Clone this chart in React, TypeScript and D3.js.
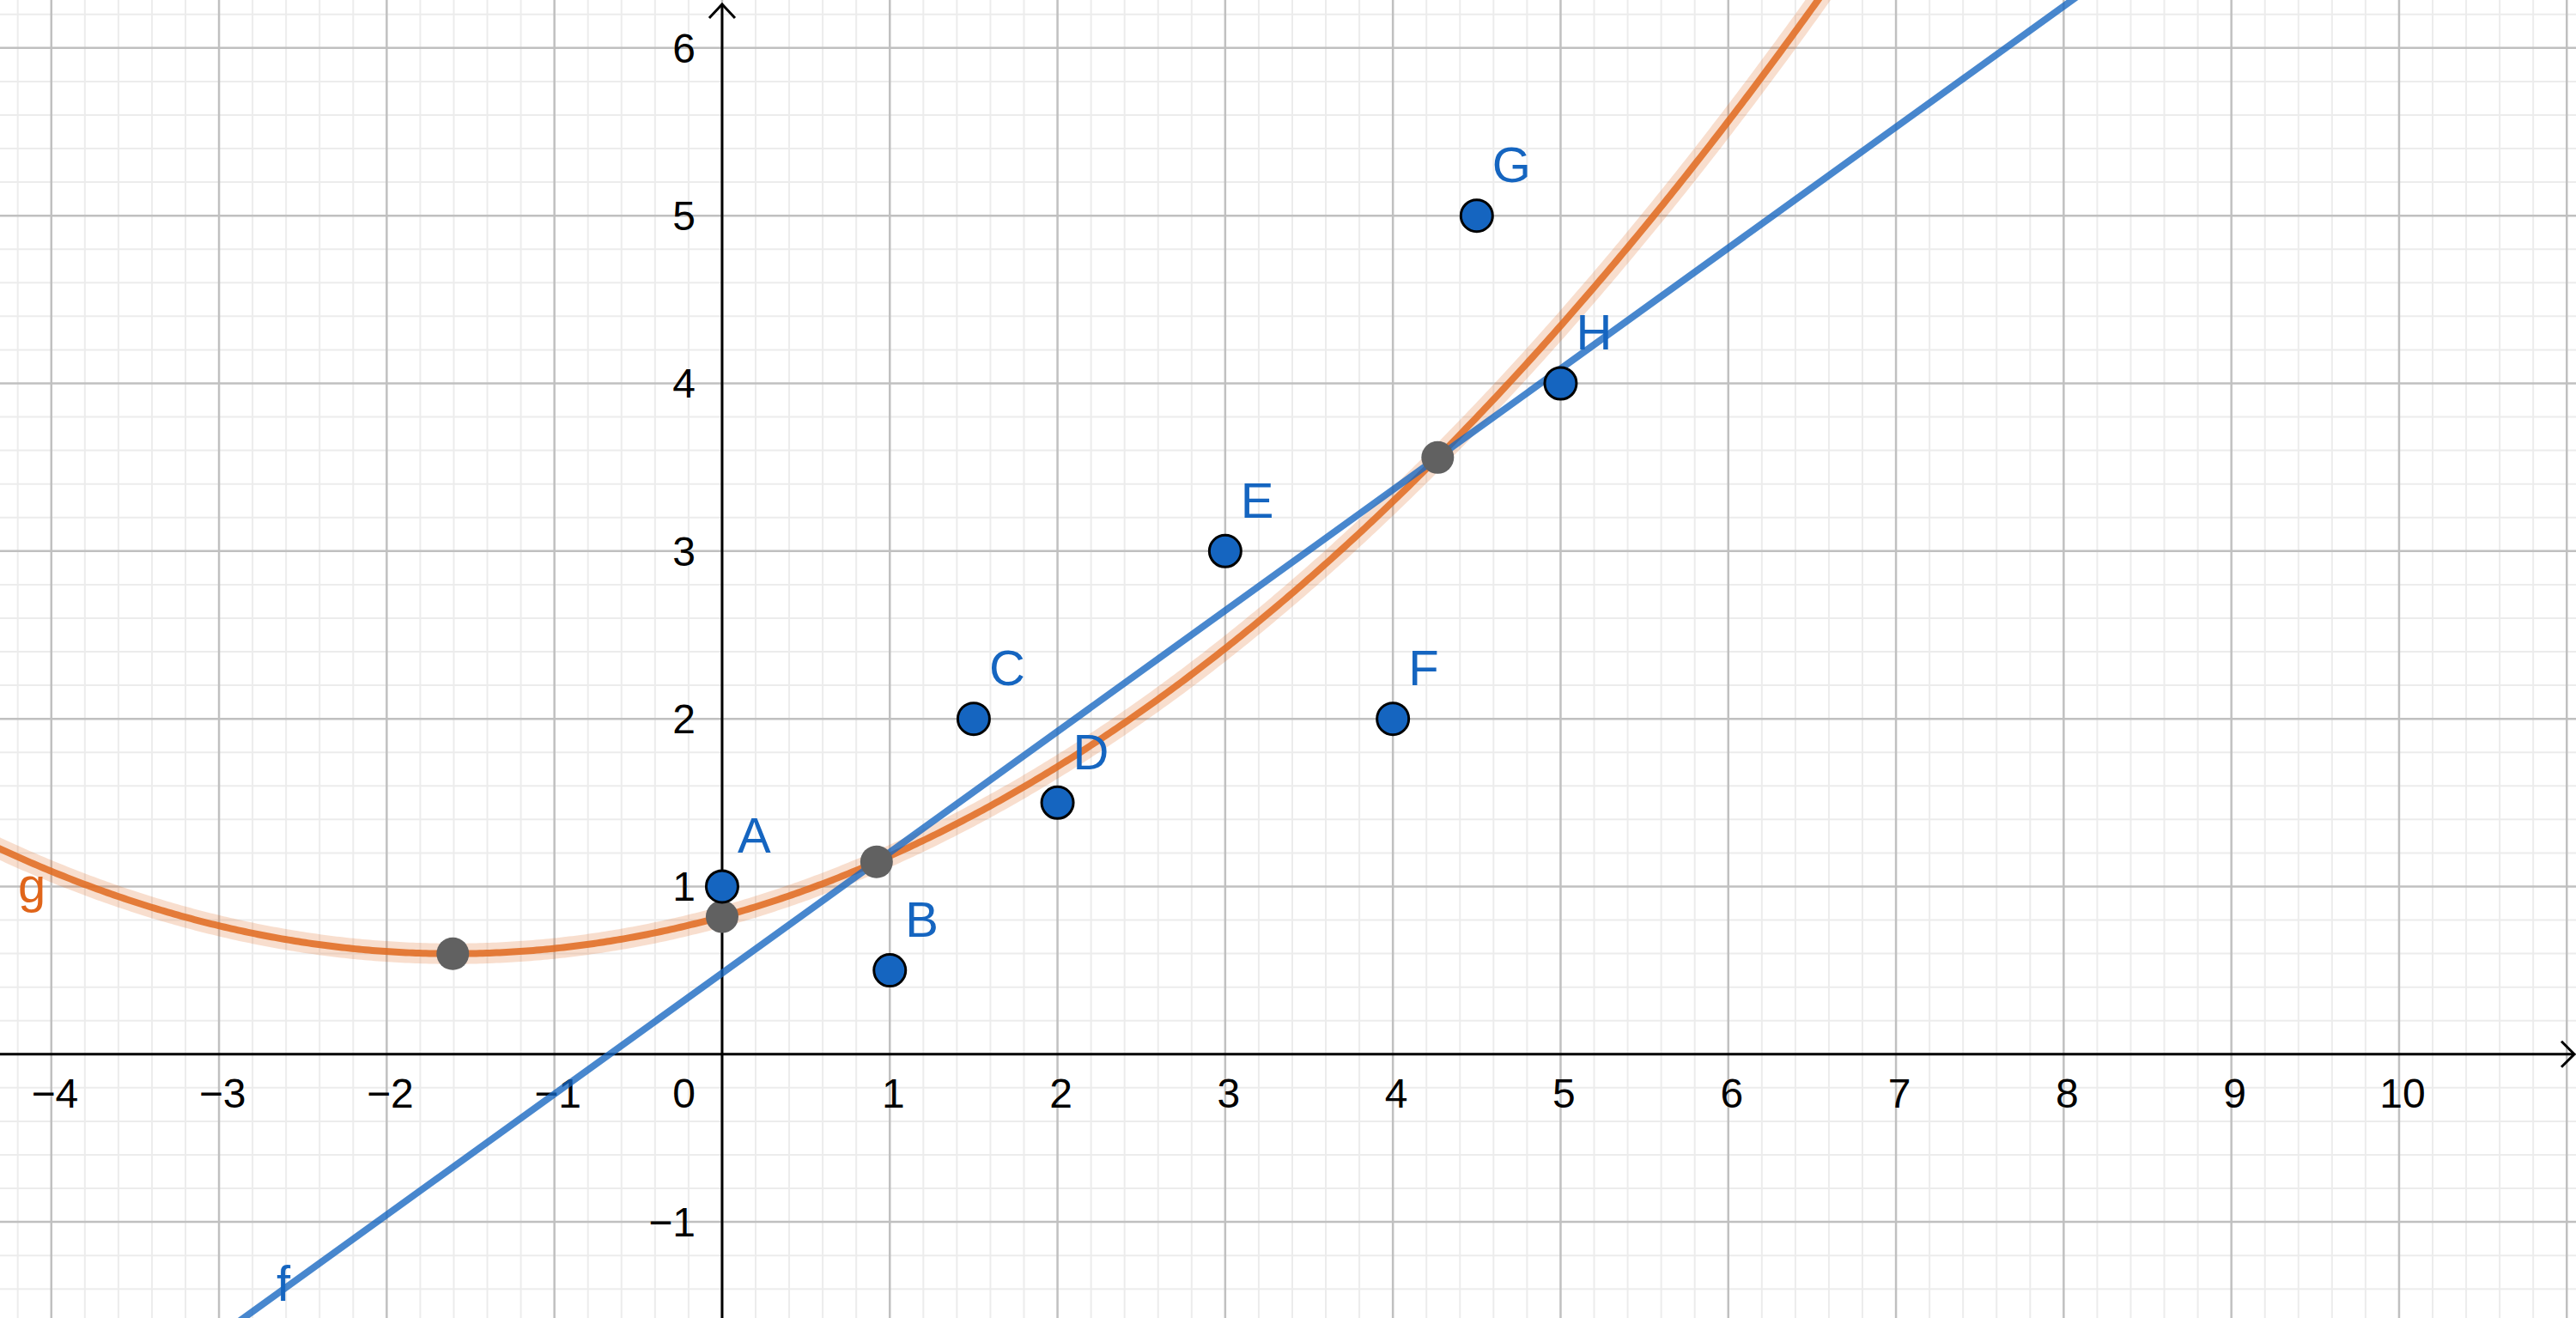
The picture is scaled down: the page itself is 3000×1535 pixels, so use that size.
import { scaleLinear, line, range } from "d3";

const width = 3000;
const height = 1535;

// visible window in data units
const xDomain = [-4.306, 11.055];
const yDomain = [-1.573, 6.286];

// data points
const pointNames = ["A", "B", "C", "D", "E", "F", "G", "H"];
const pointX = [0, 1, 1.5, 2, 3, 4, 4.5, 5];
const pointY = [1, 0.5, 2, 1.5, 3, 2, 5, 4];

// f(x) = slope * x + intercept
const fSlope = 0.7207;
const fIntercept = 0.4832;
// g(x) = a x^2 + b x + c
const gA = 0.0858;
const gB = 0.2756;
const gC = 0.8204;

// grey special points (extremum, y-intercept, intersections)
const specialX = [-1.606, 0, 0.921, 4.267];
const specialY = [0.599, 0.82, 1.147, 3.558];

// function labels
const fnNames = ["f", "g"];
const fnLabelX = [-2.657, -4.198];
const fnLabelY = [-1.472, 0.907];

const xTicks = [-4, -3, -2, -1, 0, 1, 2, 3, 4, 5, 6, 7, 8, 9, 10];
const yTicks = [-1, 1, 2, 3, 4, 5, 6];

const font = "'Liberation Sans', Arial, sans-serif";
const blue = "#1565c0";
const orange = "#e06a1e";

const App = () => {
  const xScale = scaleLinear().domain(xDomain).range([0, width]);
  const yScale = scaleLinear().domain(yDomain).range([height, 0]);

  const x0 = xScale(0);
  const y0 = yScale(0);

  const minorX = range(Math.ceil(xDomain[0] * 5), Math.floor(xDomain[1] * 5) + 1)
    .filter((i) => i % 5 !== 0)
    .map((i) => i / 5);
  const minorY = range(Math.ceil(yDomain[0] * 5), Math.floor(yDomain[1] * 5) + 1)
    .filter((i) => i % 5 !== 0)
    .map((i) => i / 5);
  const majorX = range(Math.ceil(xDomain[0]), Math.floor(xDomain[1]) + 1);
  const majorY = range(Math.ceil(yDomain[0]), Math.floor(yDomain[1]) + 1);

  const samples = range(xDomain[0] - 0.2, xDomain[1] + 0.2, 0.02);

  const fPath = line<number>()
    .x((x) => xScale(x))
    .y((x) => yScale(fSlope * x + fIntercept))([xDomain[0] - 1, xDomain[1] + 1]);
  const gPath = line<number>()
    .x((x) => xScale(x))
    .y((x) => yScale(gA * x * x + gB * x + gC))(samples);

  const fmt = (t: number) => (t < 0 ? "\u2212" + Math.abs(t) : String(t));

  return (
    <svg
      width={width}
      height={height}
      style={{ position: "absolute", left: 0, top: 0, background: "#fff" }}
    >
      <defs>
        <clipPath id="view">
          <rect x={0} y={0} width={width} height={height} />
        </clipPath>
      </defs>
      {/* minor grid */}
      {minorX.map((v) => (
        <line key={"mx" + v} x1={xScale(v)} x2={xScale(v)} y1={0} y2={height} stroke="#ececec" strokeWidth={2} />
      ))}
      {minorY.map((v) => (
        <line key={"my" + v} y1={yScale(v)} y2={yScale(v)} x1={0} x2={width} stroke="#ececec" strokeWidth={2} />
      ))}
      {/* major grid */}
      {majorX.map((v) => (
        <line key={"Mx" + v} x1={xScale(v)} x2={xScale(v)} y1={0} y2={height} stroke="#c0c0c0" strokeWidth={2.5} />
      ))}
      {majorY.map((v) => (
        <line key={"My" + v} y1={yScale(v)} y2={yScale(v)} x1={0} x2={width} stroke="#c0c0c0" strokeWidth={2.5} />
      ))}

      {/* axes */}
      <line x1={0} x2={width - 2} y1={y0} y2={y0} stroke="#000" strokeWidth={3} />
      <polyline
        points={`${width - 17},${y0 - 15} ${width - 2},${y0} ${width - 17},${y0 + 15}`}
        fill="none"
        stroke="#000"
        strokeWidth={3}
      />
      <line x1={x0} x2={x0} y1={height} y2={5} stroke="#000" strokeWidth={3} />
      <polyline
        points={`${x0 - 15},${21} ${x0},${5} ${x0 + 15},${21}`}
        fill="none"
        stroke="#000"
        strokeWidth={3}
      />

      {/* tick labels */}
      <g fontFamily={font} fontSize={48} fill="#000">
        {xTicks.map((t) => (
          <text
            key={"xt" + t}
            x={t === 0 ? x0 - 31 : xScale(t) + 4}
            y={y0 + 62}
            textAnchor={t === 0 ? "end" : "middle"}
          >
            {fmt(t)}
          </text>
        ))}
        {yTicks.map((t) => (
          <text key={"yt" + t} x={x0 - 31} y={yScale(t) + 17} textAnchor="end">
            {fmt(t)}
          </text>
        ))}
      </g>

      {/* curves */}
      <g clipPath="url(#view)" fill="none" strokeLinecap="round">
        <path d={gPath || ""} stroke={orange} strokeOpacity={0.22} strokeWidth={24} />
        <path d={gPath || ""} stroke={orange} strokeOpacity={0.85} strokeWidth={8} />
        <path d={fPath || ""} stroke={blue} strokeOpacity={0.78} strokeWidth={8} />
      </g>

      {/* function labels */}
      {fnNames.map((n, i) => (
        <text
          key={n}
          x={xScale(fnLabelX[i])}
          y={yScale(fnLabelY[i])}
          fontFamily={font}
          fontSize={58}
          fill={n === "f" ? blue : "#e0651a"}
        >
          {n}
        </text>
      ))}

      {/* special points */}
      {specialX.map((x, i) => (
        <circle key={"s" + i} cx={xScale(x)} cy={yScale(specialY[i])} r={19} fill="#616161" />
      ))}

      {/* data points */}
      {pointNames.map((n, i) => (
        <g key={n}>
          <circle cx={xScale(pointX[i])} cy={yScale(pointY[i])} r={18.5} fill={blue} stroke="#000" strokeWidth={3} />
          <text
            x={xScale(pointX[i]) + 18}
            y={yScale(pointY[i]) - 39}
            fontFamily={font}
            fontSize={58}
            fill={blue}
          >
            {n}
          </text>
        </g>
      ))}
    </svg>
  );
};

export default App;
